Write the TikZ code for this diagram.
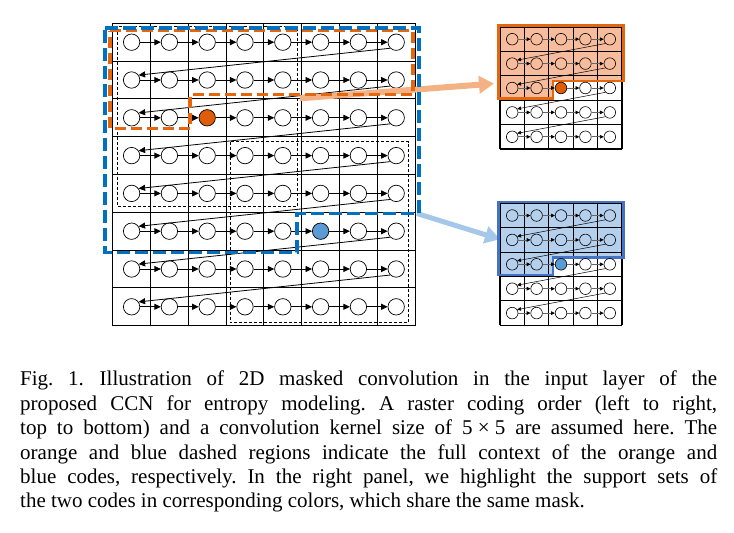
\documentclass[tikz,border=0pt]{standalone}
\usepackage{fontspec}
\setmainfont{Liberation Serif}
\usetikzlibrary{arrows.meta}
\definecolor{corg}{HTML}{E4660E}
\definecolor{corgdot}{HTML}{DF5C08}
\definecolor{corgfill}{HTML}{F6BC9C}
\definecolor{corgarr}{HTML}{F4B183}
\definecolor{cblu}{HTML}{0070C0}
\definecolor{cbludot}{HTML}{5B9BD5}
\definecolor{cblufill}{HTML}{B4D0EC}
\definecolor{cbluline}{HTML}{4472C4}
\definecolor{cbluarr}{HTML}{A5C7E9}

\begin{document}
\frenchspacing
\begin{tikzpicture}[x=1pt, y=-1pt,
  >={Triangle[length=6.5pt, width=6pt]},
  gridline/.style={line width=1.1pt},
  pix/.style={circle, draw, line width=0.7pt, minimum size=16.4pt, inner sep=0pt},
  spix/.style={circle, draw, line width=0.6pt, minimum size=11.6pt, inner sep=0pt},
  scanflow/.style={->, line width=0.8pt},
  sscan/.style={-{Triangle[length=3.8pt, width=3.6pt, color=black]}, line width=0.7pt, draw=black!60},
  sret/.style={-{Triangle[length=3.8pt, width=3.6pt]}, line width=0.5pt},
  kernel/.style={line width=0.6pt, dash pattern=on 3pt off 2pt},
  ctxorg/.style={draw=corg, line width=3.2pt, dash pattern=on 11pt off 5pt},
  ctxblu/.style={draw=cblu, line width=3.2pt, dash pattern=on 13pt off 5pt},
  bigarr/.style={line width=6pt, -{Triangle[length=15pt, width=17pt]}},
  caption/.style={anchor=north west, inner sep=0pt, text width=697pt, align=justify,
    font=\fontsize{21pt}{24.4pt}\selectfont},
]
\useasboundingbox (0,0) rectangle (734,533);

% =================== main 8x8 feature map ===================
\def\mx{112.7} \def\my{23.3} \def\mc{37.8}
\foreach \k in {0,...,8} {
  \draw[gridline] (\mx+\k*\mc,\my) -- (\mx+\k*\mc,\my+8*\mc);
  \draw[gridline] (\mx,\my+\k*\mc) -- (\mx+8*\mc,\my+\k*\mc);
}
% 5x5 kernels
\draw[kernel] (117.3,26.5) rectangle (297.5,206);
\draw[kernel] (230,141.7) rectangle (408.3,322.7);
\foreach \r in {1,...,8} \foreach \c in {1,...,8} {
  \def\pfill{white}
  \ifnum\r\c=33 \def\pfill{corgdot}\fi
  \ifnum\r\c=66 \def\pfill{cbludot}\fi
  \node[pix, fill=\pfill] (m-\r-\c) at (\mx+\c*\mc-0.5*\mc, \my+\r*\mc-0.5*\mc) {};
}
% raster order
\foreach \r in {1,...,8} \foreach \c in {1,...,7} {
  \pgfmathtruncatemacro{\cc}{\c+1}
  \draw[scanflow] (m-\r-\c) -- (m-\r-\cc);
}
\foreach \r in {1,...,7} {
  \pgfmathtruncatemacro{\rr}{\r+1}
  \draw[scanflow] (m-\r-8.225) -- (m-\rr-1.35);
}

% =================== links to right panel ===================
\coordinate (otail) at (300,98.3);
\coordinate (ohead) at (494,83.6);
\draw[bigarr, corgarr] (otail) -- (ohead);
\coordinate (btail) at (417,213.5);
\coordinate (bhead) at (500,239.3);
\draw[bigarr, cbluarr, line width=5pt] (btail) -- (bhead);

% full contexts
\draw[ctxorg] (110,30.7) -- (413,30.7) -- (413,94.3) -- (190,94.3) -- (190,128.3) -- (110,128.3) -- cycle;
\draw[ctxblu] (105,28) -- (419,28) -- (419,213.3) -- (297,213.3) -- (297,252.7) -- (105,252.7) -- cycle;

% =================== right panel: support sets ===================
\def\sc{24.4}
\foreach \p/\py/\cf/\cl/\cd in {o/27/corgfill/corg/corgdot, b/203.3/cblufill/cbluline/cbludot} {
  \begin{scope}[shift={(500,\py)}]
    \fill[\cf] (-1.5,-1.5) -- (123.5,-1.5) -- (123.5,54) -- (53,54) -- (53,71.5) -- (-1.5,71.5) -- cycle;
    \foreach \k in {0,...,5} {
      \draw[gridline] (\k*\sc,0) -- (\k*\sc,5*\sc);
      \draw[gridline] (0,\k*\sc) -- (5*\sc,\k*\sc);
    }
    \draw[\cl, line width=2.6pt] (-1.5,-1.5) -- (123.5,-1.5) -- (123.5,54) -- (53,54) -- (53,71.5) -- (-1.5,71.5) -- cycle;
    \foreach \r in {1,...,5} \foreach \c in {1,...,5} {
      \def\pfill{none}
      \ifnum\r\c=33 \def\pfill{\cd}\fi
      \node[spix, fill=\pfill] (\p-\r-\c) at (\c*\sc-0.5*\sc, \r*\sc-0.5*\sc) {};
    }
    \foreach \r in {1,...,5} \foreach \c in {1,...,4} {
      \pgfmathtruncatemacro{\cc}{\c+1}
      \draw[sscan] (\p-\r-\c) -- (\p-\r-\cc);
    }
    \foreach \r in {1,...,4} {
      \pgfmathtruncatemacro{\rr}{\r+1}
      \draw[sret] (\p-\r-5.225) -- (\p-\rr-1.35);
    }
  \end{scope}
}

% =================== caption ===================
\node[caption] (cap) at (20,371) {Fig.~1.\hspace{0.75em}Illustration of 2D masked convolution in the input layer of the\linebreak
  proposed CCN for entropy modeling. A raster coding order (left to right,\linebreak
  top to bottom) and a convolution kernel size of 5\hspace{0.25em}×\hspace{0.25em}5 are assumed here. The\linebreak
  orange and blue dashed regions indicate the full context of the orange and\linebreak
  blue codes, respectively. In the right panel, we highlight the support sets of\linebreak
  the two codes in corresponding colors, which share the same mask.};
\end{tikzpicture}
\end{document}
